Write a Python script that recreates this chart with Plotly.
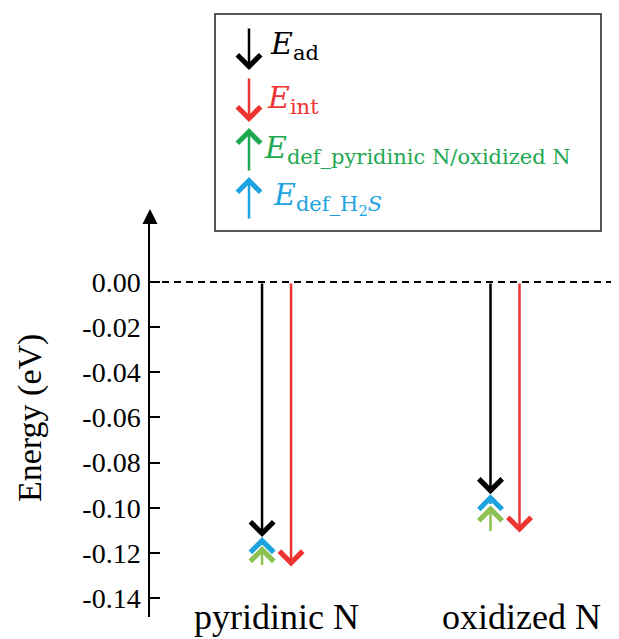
import plotly.graph_objects as go

# ---------------- data ----------------
categories = ["pyridinic N", "oxidized N"]
E_ad = [-0.113, -0.094]        # black, down from 0
E_int = [-0.126, -0.111]       # red, down from 0
E_def_N = [0.009, 0.012]       # green, up from E_int
E_def_H2S = [0.004, 0.005]     # blue, up to E_ad

tick_vals = [0.00, -0.02, -0.04, -0.06, -0.08, -0.10, -0.12, -0.14]
tick_text = ["0.00", "-0.02", "-0.04", "-0.06", "-0.08", "-0.10", "-0.12", "-0.14"]

legend_labels = [
    "<i>E</i><sub>ad</sub>",
    "<i>E</i><sub>int</sub>",
    "<i>E</i><sub>def_pyridinic N/oxidized N</sub>",
    "<i>E</i><sub>def_H<sub>2</sub><i>S</i></sub>",
]

# ---------------- style ----------------
C_AD = "#000000"
C_INT = "#EE3333"
C_DEF_N = "#8CC152"
C_DEF_N_LEG = "#1FA852"
C_H2S = "#1CA3E0"

# page body has an 8px margin -> compensate
OFF = 8
W, H = 619 - OFF, 639 - OFF
REF_L, REF_T, REF_B = 150, 216, 617   # plot area edges in window pixels
ML, MT = REF_L - OFF, REF_T - OFF
MB = H - (REF_B - OFF)
MR = 0
PW, PH = W - ML - MR, H - MT - MB
DX = 0.0635
XR = [-0.554, 1.499]
YR = [-0.1484, 0.0292]


def py(p):
    return (REF_B - p) / PH


def px(p):
    return (p - REF_L) / PW


fig = go.Figure()
fig.add_trace(go.Scatter(x=[0, 1], y=[0, 0], mode="markers",
                         marker=dict(opacity=0), hoverinfo="skip", showlegend=False))

ann = []


def arrow(x, y_tip, y_tail, color):
    ann.append(dict(x=x, y=y_tip, ax=x, ay=y_tail, xref="x", yref="y",
                    axref="x", ayref="y", text="", showarrow=True,
                    arrowhead=4, arrowsize=1.8, arrowwidth=2.5,
                    arrowcolor=color, standoff=0, startstandoff=0))


for i, cat in enumerate(categories):
    xb = i - DX
    xr = i + DX
    arrow(xb, E_ad[i], 0.0, C_AD)
    arrow(xr, E_int[i], 0.0, C_INT)
    arrow(xb, E_int[i] + E_def_N[i], E_int[i], C_DEF_N)
    arrow(xb, E_ad[i], E_int[i] + E_def_N[i], C_H2S)

label_x = [0.0, 1.07]
for i, cat in enumerate(categories):
    ann.append(dict(x=label_x[i], y=py(617), xref="x", yref="paper",
                    text=cat, showarrow=False, xanchor="center", yanchor="middle",
                    font=dict(family="Liberation Serif", size=36, color="black")))

# y-axis title
ann.append(dict(x=px(30), y=py(418), xref="paper", yref="paper",
                text="Energy (eV)", showarrow=False, textangle=-90,
                xanchor="center", yanchor="middle",
                font=dict(family="Liberation Serif", size=34, color="black")))

# y-axis arrow head
ann.append(dict(x=0, y=py(209), xref="paper", yref="paper",
                ax=0, ay=12, text="", showarrow=True, arrowhead=2,
                arrowsize=2, arrowwidth=1.5, arrowcolor="black"))

# legend arrows (tip pixel y, tail pixel y)
leg_arrows = [(70, 27, C_AD), (122, 77, C_INT), (128, 172, C_DEF_N_LEG), (177, 220, C_H2S)]
for tip, tail, col in leg_arrows:
    ann.append(dict(x=px(249), y=py(tip), xref="paper", yref="paper",
                    ax=0, ay=tail - tip, text="", showarrow=True,
                    arrowhead=4, arrowsize=1.8, arrowwidth=2.5, arrowcolor=col,
                    standoff=0, startstandoff=0))

leg_text_pos = [(268, 45), (265, 99), (262, 149), (271, 198)]
leg_cols = [C_AD, C_INT, C_DEF_N_LEG, C_H2S]
for (tx, ty), lab, col in zip(leg_text_pos, legend_labels, leg_cols):
    ann.append(dict(x=px(tx), y=py(ty), xref="paper", yref="paper",
                    text=lab, showarrow=False, xanchor="left", yanchor="middle",
                    font=dict(family="DejaVu Serif", size=30, color=col)))

shapes = [
    dict(type="line", xref="paper", yref="y", x0=0, x1=1, y0=0, y1=0,
         line=dict(color="black", width=2, dash="7px,5px")),
    dict(type="rect", xref="paper", yref="paper",
         x0=px(215), x1=px(601), y0=py(231), y1=py(14),
         line=dict(color="#222222", width=1.5), fillcolor="rgba(0,0,0,0)"),
]

fig.update_layout(
    width=W, height=H,
    margin=dict(l=ML, r=MR, t=MT, b=MB, pad=0),
    plot_bgcolor="white", paper_bgcolor="white",
    showlegend=False,
    xaxis=dict(range=XR, visible=False, fixedrange=True),
    yaxis=dict(range=YR, showline=True, linecolor="black", linewidth=1.5,
               ticks="inside", ticklen=10, tickwidth=1.5, tickcolor="black",
               tickvals=tick_vals, ticktext=tick_text, showgrid=False,
               zeroline=False, ticklabelstandoff=2,
               tickfont=dict(family="Liberation Serif", size=28, color="black")),
    annotations=ann,
    shapes=shapes,
)

fig.write_html("out.html")
